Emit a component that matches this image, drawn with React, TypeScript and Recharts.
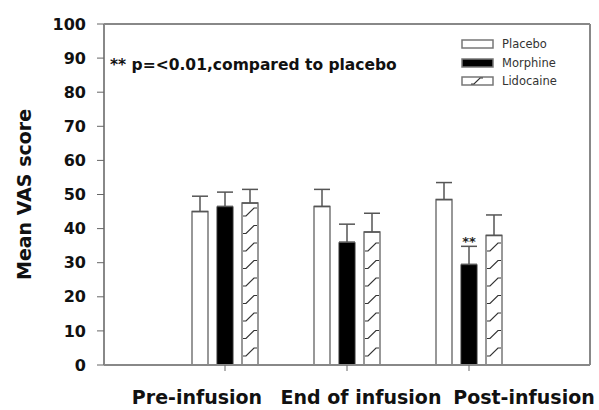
import React from "react";
import {
  ComposedChart,
  Bar,
  XAxis,
  YAxis,
  ErrorBar,
  ReferenceLine,
  Legend,
  LabelList
} from "recharts";

const categories = ["Pre-infusion", "End of infusion", "Post-infusion"];
const placebo = [45, 46.5, 48.5];
const placeboErr = [4.5, 5, 5];
const morphine = [46.5, 36, 29.5];
const morphineErr = [4.2, 5.3, 5.3];
const lidocaine = [47.5, 39, 38];
const lidocaineErr = [4, 5.5, 6];
const morphineSig = ["", "", "**"];
const seriesNames = ["Placebo", "Morphine", "Lidocaine"];
const yTicks = [0, 10, 20, 30, 40, 50, 60, 70, 80, 90, 100];
const note = "** p=<0.01,compared to placebo";

const FONT = "'DejaVu Sans', sans-serif";
const AXIS = "#888";
const EDGE = "#777";

const data = categories.map((name, i) => ({
  name,
  placebo: placebo[i],
  placeboErr: [0, placeboErr[i]],
  morphine: morphine[i],
  morphineErr: [0, morphineErr[i]],
  sig: morphineSig[i],
  lidocaine: lidocaine[i],
  lidocaineErr: [0, lidocaineErr[i]]
}));

// hand-drawn looking "/" strokes inside the lidocaine bars
function HatchedBar(props: any) {
  const { x, y, width, height } = props;
  const marks = [];
  for (let c = y + height - 13; c - 4 > y; c -= 17.5) {
    marks.push(
      <path
        key={c}
        d={`M${x + 1} ${c + 4} L${x + 4} ${c + 4} L${x + width - 4} ${c - 4} L${x + width - 1} ${c - 4}`}
        fill="none"
        stroke="#333"
        strokeWidth={1.2}
      />
    );
  }
  return (
    <g>
      <rect x={x} y={y} width={width} height={height} fill="#fff" stroke={EDGE} strokeWidth={1.5} />
      {marks}
    </g>
  );
}

const labelShift = [-28, 14, 55];

function CategoryTick(props: any) {
  const { x, y, payload, index } = props;
  return (
    <text
      x={x + (labelShift[index] ?? 0)}
      y={y + 31}
      textAnchor="middle"
      fontFamily={FONT}
      fontWeight="bold"
      fontSize={19}
      fill="#111"
    >
      {payload.value}
    </text>
  );
}

function SigLabel(props: any) {
  const { x, y, width, value } = props;
  if (!value) return null;
  return (
    <text x={x + width / 2} y={y - 18} textAnchor="middle" fontFamily={FONT} fontWeight="bold" fontSize={13} fill="#222">
      {value}
    </text>
  );
}

function YTitle(props: any) {
  const { viewBox } = props;
  const cx = viewBox.x + 16;
  const cy = viewBox.y + viewBox.height / 2;
  return (
    <text
      x={cx}
      y={cy}
      transform={`rotate(-90 ${cx} ${cy})`}
      textAnchor="middle"
      dominantBaseline="central"
      fontFamily={FONT}
      fontWeight="bold"
      fontSize={19}
      fill="#111"
    >
      Mean VAS score
    </text>
  );
}

function LegendBox() {
  return (
    <div style={{ fontFamily: FONT, fontSize: 11.5, color: "#333" }}>
      {seriesNames.map((n, i) => (
        <div key={n} style={{ display: "flex", alignItems: "center", height: 18.5 }}>
          <svg width={33} height={10}>
            <rect x={1} y={1} width={31} height={8} fill={i === 1 ? "#000" : "#fff"} stroke={EDGE} strokeWidth={1.5} />
            {i === 2 && <path d="M10 8 L13 8 L19 2 L22 2" fill="none" stroke="#333" strokeWidth={1.2} />}
          </svg>
          <span style={{ marginLeft: 8 }}>{n}</span>
        </div>
      ))}
    </div>
  );
}

export default function App() {
  return (
    <div style={{ position: "absolute", left: 8, top: 8, width: 591, height: 402 }}>
      <ComposedChart
        width={591}
        height={402}
        data={data}
        margin={{ top: 16, right: 8, left: 0, bottom: 0 }}
        barSize={16}
        barGap={9}
      >
        <XAxis
          dataKey="name"
          interval={0}
          height={45}
          padding={{ left: 60, right: 60 }}
          tickSize={6}
          axisLine={{ stroke: AXIS, strokeWidth: 2 }}
          tickLine={{ stroke: "#666" }}
          tick={<CategoryTick />}
        />
        <YAxis
          domain={[0, 100]}
          ticks={yTicks}
          interval={0}
          width={96}
          tickSize={7}
          tickMargin={11}
          axisLine={{ stroke: AXIS, strokeWidth: 2 }}
          tickLine={{ stroke: "#666" }}
          tick={{ fontFamily: FONT, fontWeight: "bold", fontSize: 16, fill: "#111" }}
          label={<YTitle />}
        />
        <YAxis
          yAxisId="frame"
          orientation="right"
          domain={[0, 100]}
          width={1}
          tick={false}
          tickLine={false}
          axisLine={{ stroke: AXIS, strokeWidth: 2 }}
        />
        <ReferenceLine y={100} stroke={AXIS} strokeWidth={2} />
        <ReferenceLine
          y={88}
          stroke="none"
          label={{
            value: note,
            position: "insideLeft",
            offset: 6,
            fill: "#111",
            fontSize: 15.5,
            fontFamily: FONT,
            fontWeight: "bold"
          }}
        />
        <Legend
          layout="vertical"
          align="center"
          verticalAlign="middle"
          wrapperStyle={{ left: 453, top: 27, width: "auto" }}
          content={<LegendBox />}
        />
        <Bar dataKey="placebo" name="Placebo" fill="#fff" stroke={EDGE} strokeWidth={1.5} isAnimationActive={false}>
          <ErrorBar dataKey="placeboErr" direction="y" width={8} stroke="#555" strokeWidth={1.5} />
        </Bar>
        <Bar dataKey="morphine" name="Morphine" fill="#000" stroke="#333" strokeWidth={1} isAnimationActive={false}>
          <ErrorBar dataKey="morphineErr" direction="y" width={8} stroke="#555" strokeWidth={1.5} />
          <LabelList dataKey="sig" content={<SigLabel />} />
        </Bar>
        <Bar dataKey="lidocaine" name="Lidocaine" shape={<HatchedBar />} isAnimationActive={false}>
          <ErrorBar dataKey="lidocaineErr" direction="y" width={8} stroke="#555" strokeWidth={1.5} />
        </Bar>
      </ComposedChart>
    </div>
  );
}
